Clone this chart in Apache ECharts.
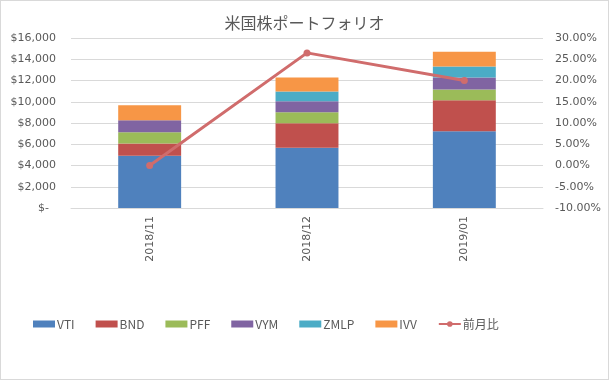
<!DOCTYPE html>
<html><head><meta charset="utf-8">
<script src="https://cdn.jsdelivr.net/npm/echarts@6/dist/echarts.min.js"></script>
<style>html,body{margin:0;padding:0;background:#fff}#c{width:607px;height:378px;border:1px solid #D9D9D9}</style>
</head><body><div id="c"></div>
<script>
const categories = ['2018/11', '2018/12', '2019/01'];
const VTI  = [4920, 5670, 7230];
const BND  = [1160, 2310, 2900];
const PFF  = [1060, 1030, 1030];
const VYM  = [1120, 1030, 1120];
const ZMLP = [0, 935, 1030];
const IVV  = [1400, 1310, 1400];
const momPct = [0.0, 26.5, 20.0];
const seriesNames = ['VTI', 'BND', 'PFF', 'VYM', 'ZMLP', 'IVV'];
const seriesData = [VTI, BND, PFF, VYM, ZMLP, IVV];
const colors = ['#4F81BD', '#C0504D', '#9BBB59', '#8064A2', '#4BACC6', '#F79646'];
const lineName = '前月比';

const font = 'DejaVu Sans';
const txt = '#595959';
const chart = echarts.init(document.getElementById('c'));
const bars = seriesNames.map((n, i) => ({
  name: n, type: 'bar', stack: 'total', barWidth: '40%',
  data: seriesData[i], itemStyle: { color: colors[i] }, emphasis: { disabled: true }
}));
chart.setOption({
  animation: false,
  textStyle: { fontFamily: font },
  title: { text: '米国株ポートフォリオ', left: 'center', top: 9,
    textStyle: { fontFamily: 'Noto Sans CJK JP', fontSize: 16, fontWeight: 'normal', color: txt } },
  grid: { left: 70, right: 65, top: 37, bottom: 171 },
  legend: { bottom: 44, left: 27, itemGap: 21, itemWidth: 22, itemHeight: 7,
    textStyle: { color: txt, fontSize: 12, fontFamily: 'Noto Sans CJK JP', padding: [0, 0, 0, -3] },
    data: seriesNames.map(n => ({ name: n, icon: 'rect' })).concat([{ name: lineName }]) },
  xAxis: { type: 'category', data: categories,
    axisLine: { lineStyle: { color: '#D9D9D9' } },
    axisTick: { inside: true, length: 4, lineStyle: { color: '#D9D9D9' } },
    axisLabel: { rotate: 90, color: txt, fontSize: 11, margin: 8 } },
  yAxis: [
    { type: 'value', min: 0, max: 16000, interval: 2000,
      splitLine: { lineStyle: { color: '#D9D9D9' } },
      axisLabel: { color: txt, fontSize: 11, margin: 15,
        formatter: v => v === 0 ? '$-  ' : '$' + v.toLocaleString('en-US') } },
    { type: 'value', min: -10, max: 30, interval: 5, position: 'right',
      splitLine: { show: false },
      axisLabel: { color: txt, fontSize: 11, margin: 12, formatter: v => v.toFixed(2) + '%' } }
  ],
  series: bars.concat([{
    name: lineName, type: 'line', yAxisIndex: 1, data: momPct,
    symbol: 'circle', symbolSize: 7,
    lineStyle: { color: '#D06C6C', width: 3 }, itemStyle: { color: '#D06C6C' }
  }])
});
</script></body></html>
